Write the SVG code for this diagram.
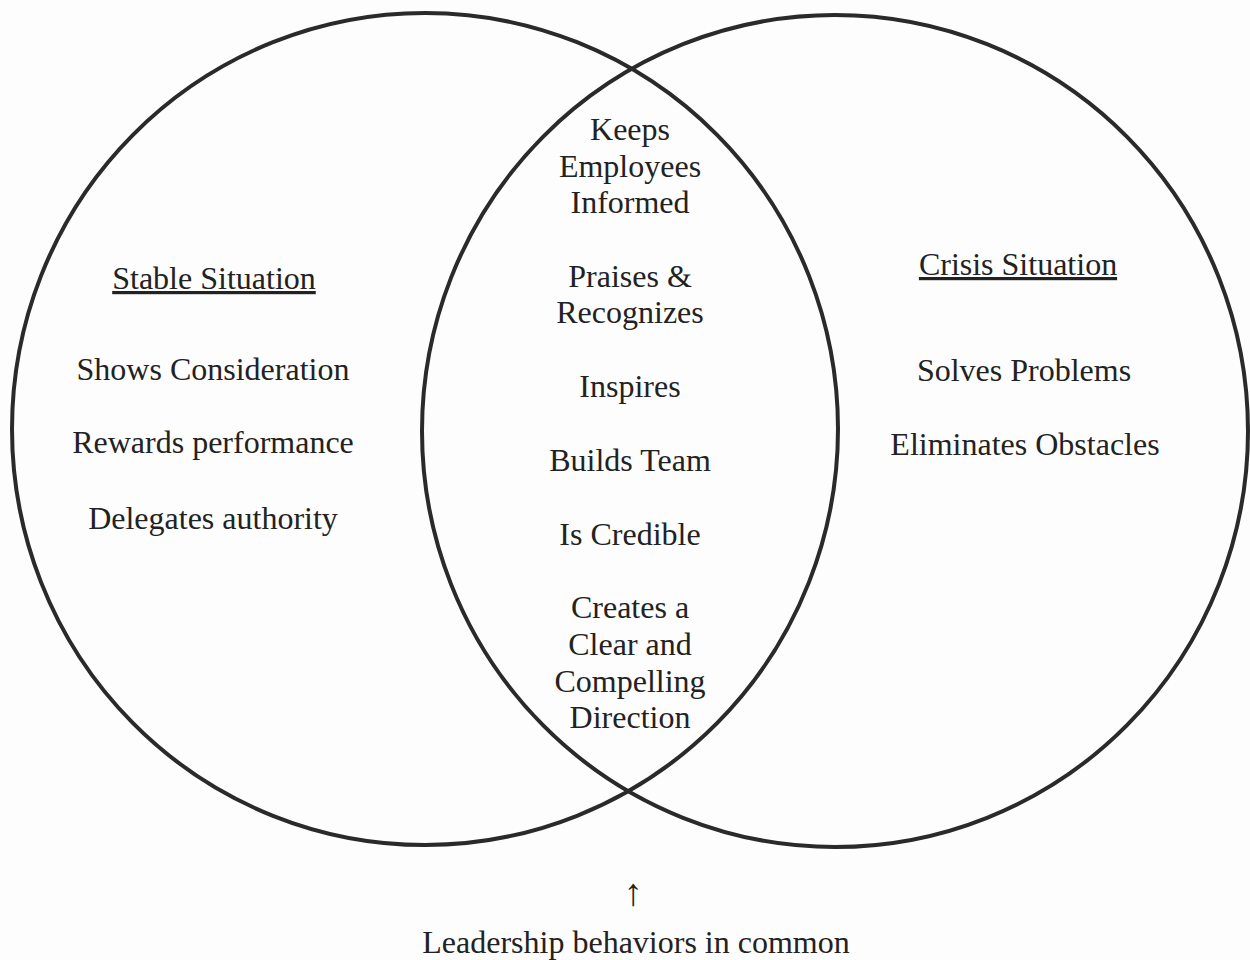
<svg xmlns="http://www.w3.org/2000/svg" width="1250" height="960" viewBox="0 0 1250 960">
<style>
  .c { fill: none; stroke: #2a2a2a; stroke-width: 4; }
  text { font-family: "Liberation Serif", "Times New Roman", serif; font-size: 32px; fill: #222; text-anchor: middle; }
  .u { text-decoration: underline; }
</style>
<rect width="1250" height="960" fill="#fdfdfd"/>
<g id="connectors">
  <ellipse id="stable-circle" class="c" cx="425" cy="429" rx="413" ry="416"/>
  <ellipse id="crisis-circle" class="c" cx="835" cy="431" rx="413" ry="416"/>
</g>
<g id="stable">
  <text class="u" x="214" y="289">Stable Situation</text>
  <text x="213" y="380">Shows Consideration</text>
  <text x="213" y="453">Rewards performance</text>
  <text x="213" y="529">Delegates authority</text>
</g>
<g id="common">
  <text x="630" y="140">Keeps</text>
  <text x="630" y="177">Employees</text>
  <text x="630" y="213">Informed</text>
  <text x="630" y="287">Praises &amp;</text>
  <text x="630" y="323">Recognizes</text>
  <text x="630" y="397">Inspires</text>
  <text x="630" y="471">Builds Team</text>
  <text x="630" y="545">Is Credible</text>
  <text x="630" y="618">Creates a</text>
  <text x="630" y="655">Clear and</text>
  <text x="630" y="692">Compelling</text>
  <text x="630" y="728">Direction</text>
</g>
<g id="crisis">
  <text class="u" x="1018" y="275">Crisis Situation</text>
  <text x="1024" y="381">Solves Problems</text>
  <text x="1025" y="455">Eliminates Obstacles</text>
</g>
<g id="caption">
  <text x="633" y="905" style="font-size:38px">↑</text>
  <text x="636" y="953">Leadership behaviors in common</text>
</g>
</svg>
